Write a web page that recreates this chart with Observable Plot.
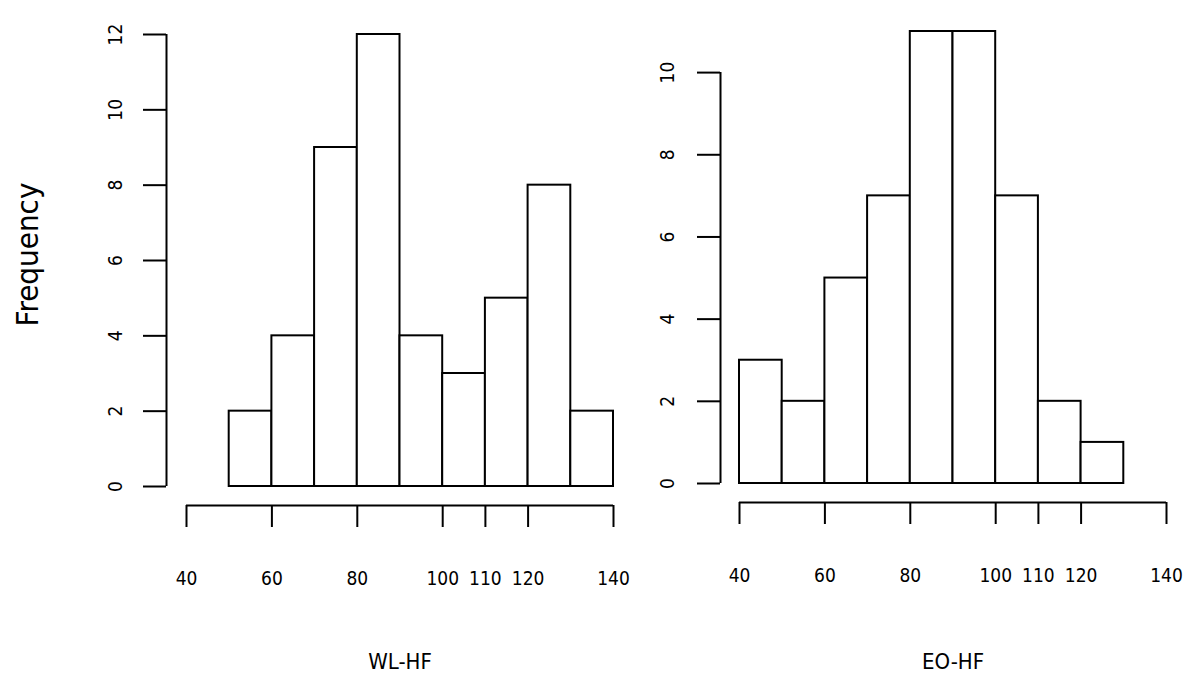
<!DOCTYPE html>
<html>
<head>
<meta charset="utf-8">
<script src="https://cdn.jsdelivr.net/npm/d3@7"></script>
<script src="https://cdn.jsdelivr.net/npm/@observablehq/plot@0.6"></script>
<style>
  body { margin: 0; background: #fff; }
  #wrap { display: flex; width: 1200px; height: 698px; overflow: hidden; }
  #wrap svg { display: block; overflow: visible; }
</style>
</head>
<body>
<div id="wrap"></div>
<script>
// ---- data ----
const xTicks = [40, 60, 80, 100, 110, 120, 140];

const wlBreaks = [50, 60, 70, 80, 90, 100, 110, 120, 130, 140];
const wlCounts = [2, 4, 9, 12, 4, 3, 5, 8, 2];
const wlYTicks = [0, 2, 4, 6, 8, 10, 12];
const wlTitle = "WL-HF";

const eoBreaks = [40, 50, 60, 70, 80, 90, 100, 110, 120, 130];
const eoCounts = [3, 2, 5, 7, 11, 11, 7, 2, 1];
const eoYTicks = [0, 2, 4, 6, 8, 10];
const eoTitle = "EO-HF";

const yTitle = "Frequency";

const FONT = '"DejaVu Sans Condensed", "Liberation Sans", Arial, sans-serif';

function makePanel(o) {
  const bins = o.counts.map((c, i) => ({x1: o.breaks[i], x2: o.breaks[i + 1], count: c}));
  const marks = [
    Plot.rectY(bins, {x1: "x1", x2: "x2", y: "count", fill: "white", stroke: "black", strokeWidth: 2}),
    // y axis (R style, offset from plot region)
    Plot.ruleX([xTicks[0]], {x: d => d, y1: o.yTicks[0], y2: o.yTicks[o.yTicks.length - 1], dx: -o.yGap, stroke: "black", strokeWidth: 2}),
    Plot.axisY({ticks: o.yTicks, tickSize: 23, dx: -o.yGap, tickFormat: () => "", label: null, stroke: "black", strokeWidth: 2}),
    Plot.text(o.yTicks, {y: d => d, text: d => String(d), frameAnchor: "left", dx: -o.yLabelOff, rotate: -90,
      textAnchor: "middle", lineAnchor: "middle", fontSize: 19, fill: "black"}),
    // x axis
    Plot.ruleY([o.yTicks[0]], {y: d => d, x1: xTicks[0], x2: xTicks[xTicks.length - 1], dy: 19, stroke: "black", strokeWidth: 2}),
    Plot.axisX({ticks: xTicks, tickSize: 22, tickPadding: 44, dy: 19, tickFormat: d => String(d), label: null,
      fontSize: 19, stroke: "black", strokeWidth: 2, fill: "black"}),
    // x title
    Plot.text([o.title], {text: d => d, frameAnchor: "bottom", dy: o.titleDy, fontSize: 22, fill: "black", lineAnchor: "middle"})
  ];
  if (o.ylabel) {
    marks.push(Plot.text([o.ylabel], {text: d => d, frameAnchor: "left", dx: o.ylabelDx, dy: -6, rotate: -90,
      fontSize: 31, fill: "black", textAnchor: "middle", lineAnchor: "middle"}));
  }
  return Plot.plot({
    width: o.width,
    height: 698,
    marginLeft: o.marginLeft,
    marginRight: o.marginRight,
    marginTop: o.marginTop,
    marginBottom: o.marginBottom,
    style: {fontFamily: FONT, background: "white", color: "black", overflow: "visible"},
    x: {domain: [xTicks[0], xTicks[xTicks.length - 1]], label: null},
    y: {domain: o.yDomain, label: null},
    marks
  });
}

const wrap = document.getElementById("wrap");
wrap.appendChild(makePanel({
  breaks: wlBreaks, counts: wlCounts, yTicks: wlYTicks, yDomain: [0, 12], title: wlTitle, ylabel: yTitle,
  width: 640, marginLeft: 186, marginRight: 27, marginTop: 34, marginBottom: 212,
  yGap: 20, yLabelOff: 71, titleDy: 175, ylabelDx: -158
}));
wrap.appendChild(makePanel({
  breaks: eoBreaks, counts: eoCounts, yTicks: eoYTicks, yDomain: [0, 11], title: eoTitle, ylabel: null,
  width: 560, marginLeft: 99, marginRight: 34, marginTop: 31, marginBottom: 215,
  yGap: 19, yLabelOff: 72, titleDy: 178
}));
</script>
</body>
</html>
